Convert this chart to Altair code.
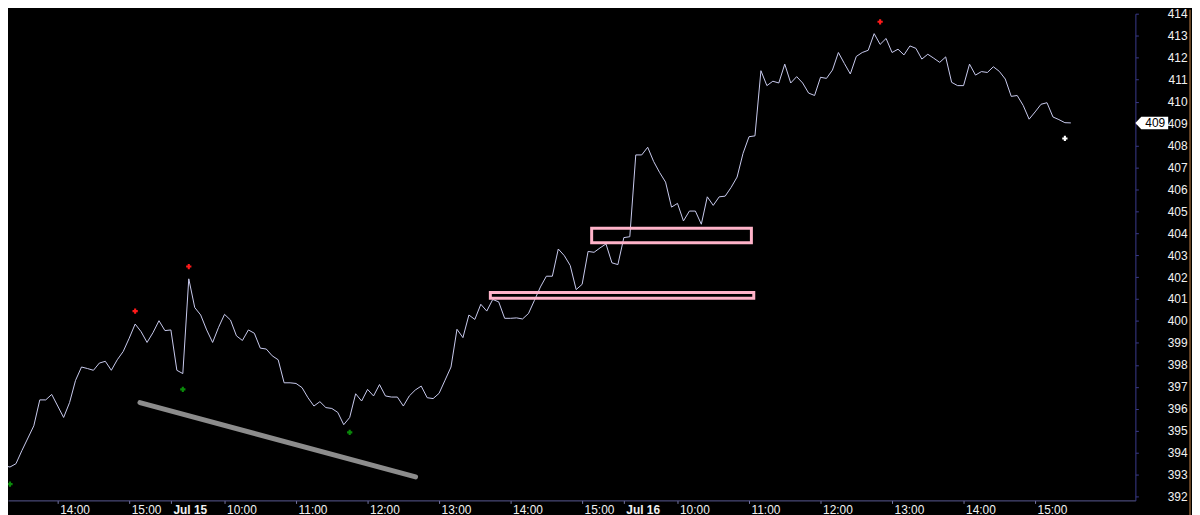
import altair as alt
import pandas as pd

# ---- data ----
bars = [0, 2, 3, 4, 6, 7, 8, 9] + list(range(11, 181))
closes = [
    393.46, 393.34, 393.49, 394.09, 395.22, 396.40, 396.40, 396.65,
    395.60, 396.28, 397.29, 397.90, 397.83, 397.75, 398.08, 398.16, 397.75, 398.23,
    398.61, 399.21, 399.86, 399.51, 399.02, 399.47, 400.01, 399.56, 399.59, 397.75,
    397.60, 401.92, 400.61, 400.27, 399.59, 399.02, 399.71, 400.30, 400.04, 399.32,
    399.11, 399.59, 399.44, 398.76, 398.72, 398.41, 398.23, 397.18, 397.18, 397.15,
    396.96, 396.50, 396.12, 396.32, 396.05, 396.01, 395.83, 395.27, 395.60, 396.68,
    396.35, 396.88, 396.58, 397.10, 396.58, 396.53, 396.53, 396.12, 396.58, 396.85,
    397.03, 396.50, 396.46, 396.70, 397.30, 397.90, 399.62, 399.24, 400.27, 400.07,
    400.76, 400.45, 400.98, 400.87, 400.12, 400.12, 400.14, 400.09, 400.34, 400.94,
    401.55, 402.04, 402.04, 403.28, 402.98, 402.53, 401.43, 401.67, 403.17, 403.13,
    403.33, 403.51, 402.65, 402.57, 403.80, 403.84, 407.57, 407.57, 407.92, 407.27,
    406.77, 406.33, 405.19, 405.36, 404.56, 405.01, 405.01, 404.41, 405.66, 405.27,
    405.66, 405.69, 406.09, 406.56, 407.64, 408.40, 408.44, 411.41, 410.73, 410.93,
    410.85, 411.71, 410.85, 411.14, 410.85, 410.39, 410.28, 411.11, 411.06, 411.44,
    412.24, 411.74, 411.26, 412.06, 412.24, 412.34, 413.10, 412.61, 412.88, 412.24,
    412.39, 412.13, 412.54, 412.43, 411.94, 412.16, 411.98, 411.79, 412.04, 410.88,
    410.73, 410.73, 411.71, 411.21, 411.37, 411.33, 411.59, 411.38, 411.03, 410.24,
    410.28, 409.83, 409.20, 409.53, 409.88, 409.95, 409.30, 409.18, 409.04, 409.03,
]

tick_bars = [10, 22, 29, 38, 50, 62, 74, 86, 98, 105, 114, 126, 138, 150, 162, 174]
tick_labels = ["14:00", "15:00", "Jul 15", "10:00", "11:00", "12:00", "13:00", "14:00",
               "15:00", "Jul 16", "10:00", "11:00", "12:00", "13:00", "14:00", "15:00"]
bold_ticks = [29, 105]
y_ticks = list(range(392, 415))

marker_bars = [23, 32, 148, 2, 31, 59, 179]
marker_vals = [400.45, 402.48, 413.64, 392.56, 396.88, 394.92, 408.32]
marker_kind = ["high", "high", "high", "low", "low", "low", "last"]

trend_bars = [23.8, 70.05]
trend_vals = [396.28, 392.89]

box_bar1 = [99.6, 82.6]
box_bar2 = [126.4, 126.8]
box_val1 = [404.23, 401.30]
box_val2 = [403.57, 401.03]

last_price = 409.03
last_label = "409"

# ---- layout ----
W, H = 1135, 490
PAD = {"left": 0, "top": 4, "right": 57, "bottom": 16}
x_dom = [1.667, 190.83]
y_dom = [391.818, 414.01]

xs = alt.Scale(domain=x_dom, nice=False, zero=False)
ys = alt.Scale(domain=y_dom, nice=False, zero=False)

label_expr = ""
for p, l in zip(tick_bars, tick_labels):
    label_expr += f"datum.value == {p} ? '{l}' : "
label_expr += "''"
bold_test = " || ".join(f"datum.value == {b}" for b in bold_ticks)

line_df = pd.DataFrame({"i": bars, "v": closes})
mk_df = pd.DataFrame({"i": marker_bars, "v": marker_vals, "kind": marker_kind})
tr_df = pd.DataFrame({"i": trend_bars, "v": trend_vals})
box_df = pd.DataFrame({"i": box_bar1, "i2": box_bar2, "v": box_val1, "v2": box_val2})
last_df = pd.DataFrame({"v": [last_price], "t": [last_label]})

x_axis = alt.Axis(
    values=tick_bars, labelExpr=label_expr, title=None, grid=False,
    tickSize=3, tickColor="#7a7aa8", domainColor="#5a5a94",
    labelColor="#f2f2f2", labelFont="Liberation Sans", labelFontSize=12,
    labelAlign="left", labelOffset=2, labelPadding=1, labelOverlap=False,
    labelFontWeight={"condition": {"test": bold_test, "value": "bold"}, "value": "normal"},
)
y_axis = alt.Axis(
    orient="right", values=y_ticks, format="d", title=None, grid=False,
    tickSize=3, tickColor="#3a3a8c", domainColor="#3a3a8c",
    labelColor="#f2f2f2", labelFont="Liberation Sans", labelFontSize=12,
    labelAlign="right", labelPadding=49, labelBaseline="middle", labelOverlap=False,
)

X = alt.X("i:Q", scale=xs, axis=x_axis)
Y = alt.Y("v:Q", scale=ys, axis=y_axis)

price = alt.Chart(line_df).mark_line(color="#c9cbee", strokeWidth=1, clip=True).encode(x=X, y=Y)

trend = alt.Chart(tr_df).mark_line(color="#8c8c8c", strokeWidth=5, strokeCap="round").encode(x=X, y=Y)

boxes = alt.Chart(box_df).mark_rect(fillOpacity=0, stroke="#ffb3c9", strokeWidth=3).encode(
    x=X, x2="i2:Q", y=Y, y2="v2:Q",
)

markers = alt.Chart(mk_df).mark_point(shape="cross", filled=True, size=28, opacity=1).encode(
    x=X, y=Y,
    color=alt.Color("kind:N", scale=alt.Scale(domain=["high", "low", "last"],
                                              range=["#ff1a1a", "#0a8a0a", "#ffffff"]), legend=None),
)

# price flag just right of the price axis, and the frame edge further right
flag_path = "M -1 0 L -0.64 -0.38 L 1 -0.38 L 1 0.38 L -0.64 0.38 Z"
flag = alt.Chart(last_df).mark_point(shape=flag_path, filled=True, size=33 * 33,
                                     color="#ffffff", opacity=1).encode(
    x=alt.value(W + 16.5), y=Y)
flag_text = alt.Chart(last_df).mark_text(color="#000000", font="Liberation Sans", fontSize=12,
                                         align="center", baseline="middle").encode(
    x=alt.value(W + 20), y=Y, text="t:N",
)
edge = alt.Chart(last_df).mark_rule(color="#c8844a", strokeWidth=1).encode(
    x=alt.value(W + 55), y=alt.value(-4), y2=alt.value(H + 16),
)

chart = alt.layer(price, trend, boxes, markers, flag, flag_text, edge).properties(
    width=W, height=H, padding=PAD, background="#000000",
    autosize=alt.AutoSizeParams(type="none"),
).configure_view(stroke=None)

chart.save("out.html", embed_options={"renderer": "svg", "actions": False})
